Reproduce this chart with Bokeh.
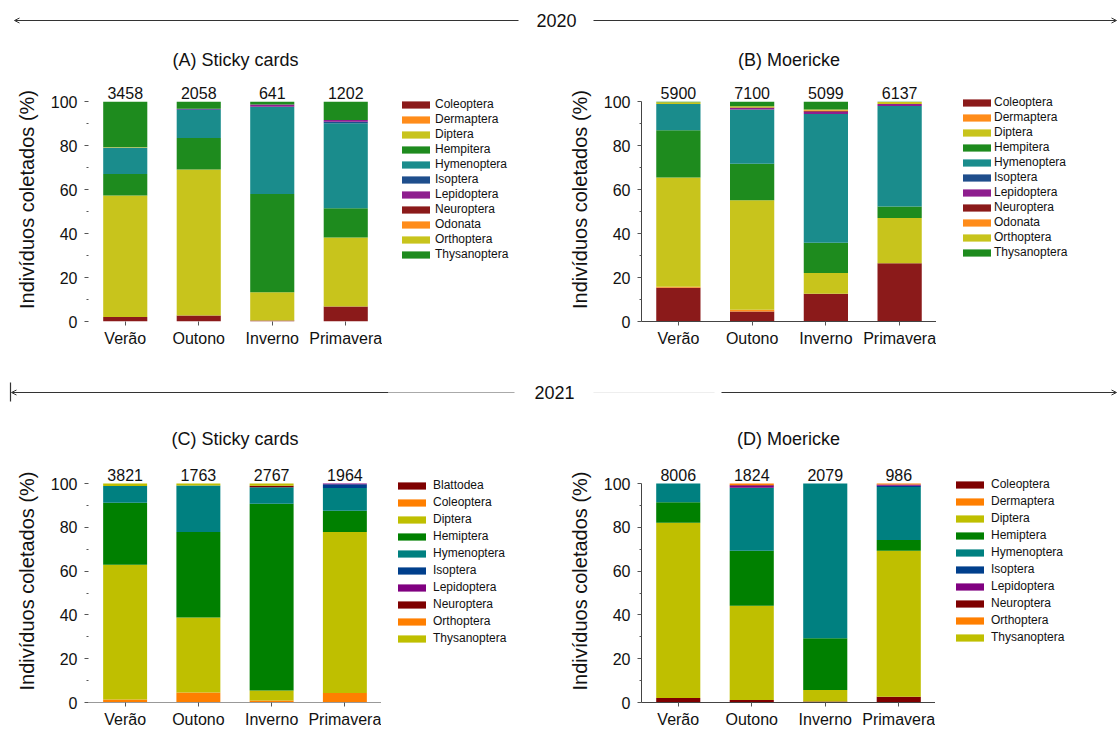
from bokeh.plotting import figure
from bokeh.models import (Legend, LegendItem, FactorRange, Range1d, FixedTicker,
                          Label, Arrow, OpenHead, ColumnDataSource)
from bokeh.layouts import column, row
from bokeh.embed import file_html
from bokeh.resources import INLINE
from bokeh.core.properties import value

FONT = "Liberation Sans"

seasons = ["Verão", "Outono", "Inverno", "Primavera"]

# ---------- 2020 ----------
orders_2020 = ["Coleoptera", "Dermaptera", "Diptera", "Hempitera", "Hymenoptera",
               "Isoptera", "Lepidoptera", "Neuroptera", "Odonata", "Orthoptera",
               "Thysanoptera"]
colors_2020 = ["#8B1A1A", "#FF8C1A", "#C8C41C", "#1E8B1E", "#1A8C8C",
               "#1F4E8C", "#8E1E8E", "#8B1A1A", "#FF8C1A", "#C8C41C", "#1E8B1E"]

# (A) Sticky cards 2020, % per order, seasons Verão..Primavera
a_coleoptera = [2.0, 2.7, 0.5, 6.8]
a_dermaptera = [0.0, 0.0, 0.0, 0.0]
a_diptera = [55.3, 66.4, 12.8, 31.4]
a_hempitera = [9.8, 14.4, 44.7, 13.3]
a_hymenoptera = [12.0, 12.7, 39.7, 38.7]
a_isoptera = [0.0, 0.3, 0.0, 0.7]
a_lepidoptera = [0.0, 0.3, 1.0, 0.8]
a_neuroptera = [0.0, 0.0, 0.0, 0.0]
a_odonata = [0.0, 0.0, 0.0, 0.0]
a_orthoptera = [0.3, 0.0, 0.0, 0.0]
a_thysanoptera = [20.6, 3.2, 1.3, 8.3]
a_counts = [3458, 2058, 641, 1202]

# (B) Moericke 2020
b_coleoptera = [15.4, 4.5, 12.6, 26.5]
b_dermaptera = [0.4, 0.8, 0.0, 0.0]
b_diptera = [49.7, 49.9, 9.5, 20.6]
b_hempitera = [21.5, 16.6, 13.7, 5.2]
b_hymenoptera = [11.9, 24.6, 58.6, 45.7]
b_isoptera = [0.0, 0.0, 0.0, 0.0]
b_lepidoptera = [0.0, 0.7, 1.0, 1.0]
b_neuroptera = [0.0, 0.2, 0.4, 0.0]
b_odonata = [0.0, 0.0, 0.3, 0.0]
b_orthoptera = [0.8, 0.6, 0.3, 0.8]
b_thysanoptera = [0.3, 2.1, 3.6, 0.2]
b_counts = [5900, 7100, 5099, 6137]

# ---------- 2021 ----------
orders_c = ["Blattodea", "Coleoptera", "Diptera", "Hemiptera", "Hymenoptera",
            "Isoptera", "Lepidoptera", "Neuroptera", "Orthoptera", "Thysanoptera"]
colors_c = ["#7F0000", "#FF7F00", "#BFBF00", "#008000", "#008080",
            "#003F8C", "#800080", "#7F0000", "#FF7F00", "#BFBF00"]

c_blattodea = [0.0, 0.0, 0.0, 0.0]
c_coleoptera = [1.4, 4.6, 0.9, 4.3]
c_diptera = [61.5, 34.2, 4.6, 73.6]
c_hemiptera = [28.4, 39.1, 85.3, 9.7]
c_hymenoptera = [7.6, 21.2, 7.5, 10.4]
c_isoptera = [0.0, 0.0, 0.0, 1.7]
c_lepidoptera = [0.0, 0.0, 0.0, 0.3]
c_neuroptera = [0.0, 0.0, 0.7, 0.0]
c_orthoptera = [0.0, 0.0, 0.0, 0.0]
c_thysanoptera = [1.1, 0.9, 1.0, 0.0]
c_counts = [3821, 1763, 2767, 1964]

orders_d = ["Coleoptera", "Dermaptera", "Diptera", "Hemiptera", "Hymenoptera",
            "Isoptera", "Lepidoptera", "Neuroptera", "Orthoptera", "Thysanoptera"]
colors_d = ["#7F0000", "#FF7F00", "#BFBF00", "#008000", "#008080",
            "#003F8C", "#800080", "#7F0000", "#FF7F00", "#BFBF00"]

d_coleoptera = [2.1, 1.1, 0.5, 2.6]
d_dermaptera = [0.0, 0.0, 0.0, 0.0]
d_diptera = [80.0, 43.1, 5.2, 66.7]
d_hemiptera = [9.4, 25.1, 23.7, 4.9]
d_hymenoptera = [8.5, 28.8, 70.6, 24.2]
d_isoptera = [0.0, 0.0, 0.0, 0.6]
d_lepidoptera = [0.0, 1.0, 0.0, 0.6]
d_neuroptera = [0.0, 0.3, 0.0, 0.0]
d_orthoptera = [0.0, 0.6, 0.0, 0.4]
d_thysanoptera = [0.0, 0.0, 0.0, 0.0]
d_counts = [8006, 1824, 2079, 986]

y_ticks = [0, 20, 40, 60, 80, 100]
y_minor = [10, 30, 50, 70, 90]
Y_END = 111


def panel(title, orders, series, colors, counts, fw, fh, left, top, bottom,
          title_standoff, x_line, y_line,
          leg_w, leg_xy, leg_spacing, leg_standoff):
    data = {"season": seasons}
    for o, s in zip(orders, series):
        data[o] = s
    data["top"] = [sum(s[i] for s in series) for i in range(len(seasons))]
    data["count"] = [str(c) for c in counts]
    src = ColumnDataSource(data)

    p = figure(x_range=FactorRange(*seasons), y_range=Range1d(0, Y_END),
               frame_width=fw, frame_height=fh, output_backend="svg",
               toolbar_location=None, min_border_left=left,
               min_border_right=0, min_border_top=top,
               min_border_bottom=bottom, outline_line_color=None,
               background_fill_color="white", border_fill_color="white")
    p.grid.visible = False

    p.vbar_stack(orders, x="season", width=0.6, fill_color=colors,
                 line_color=None, source=src)
    p.text(x="season", y="top", text="count", source=src,
           text_align="center", text_baseline="bottom", y_offset=-3,
           text_font=value(FONT), text_font_size="16px", text_color="#111111")

    p.title.text = title
    p.title.align = "center"
    p.title.text_font = FONT
    p.title.text_font_size = "18px"
    p.title.text_font_style = "normal"
    p.title.text_color = "#111111"
    p.title.standoff = title_standoff

    ya = p.yaxis[0]
    ya.ticker = FixedTicker(ticks=y_ticks, minor_ticks=y_minor)
    ya.bounds = (0, 100)
    ya.axis_label = "Indivíduos coletados (%)"
    ya.axis_label_text_font = FONT
    ya.axis_label_text_font_size = "20px"
    ya.axis_label_text_font_style = "normal"
    ya.axis_label_text_color = "#111111"
    ya.axis_label_standoff = 10
    ya.major_label_text_font = FONT
    ya.major_label_text_font_size = "16px"
    ya.major_label_text_color = "#111111"
    ya.major_label_standoff = 7
    ya.major_tick_in = 0
    ya.major_tick_out = 4
    ya.minor_tick_in = 0
    ya.minor_tick_out = 2
    ya.major_tick_line_color = "#555555"
    ya.minor_tick_line_color = "#555555"
    ya.axis_line_color = "#444444" if y_line else None

    xa = p.xaxis[0]
    xa.major_label_text_font = FONT
    xa.major_label_text_font_size = "16px"
    xa.major_label_text_color = "#111111"
    xa.major_label_standoff = 4
    xa.major_tick_in = 0
    xa.major_tick_out = 4
    xa.major_tick_line_color = "#555555"
    xa.axis_line_color = x_line

    # legend lives in its own narrow figure to the right of the plot
    total_h = top + fh + bottom
    lf = figure(width=leg_w, height=total_h, x_range=FactorRange(*seasons),
                y_range=Range1d(0, Y_END), output_backend="svg",
                toolbar_location=None, min_border=0, x_axis_type=None,
                y_axis_type=None, outline_line_color=None)
    lf.grid.visible = False
    lrs = lf.vbar_stack(orders, x="season", width=0.6, fill_color=colors,
                        line_color=None, source=src)
    for r in lrs:
        r.visible = False
    items = [LegendItem(label=o, renderers=[r]) for o, r in zip(orders, lrs)]
    leg = Legend(items=items, location=leg_xy, margin=0, padding=0,
                 spacing=leg_spacing, glyph_width=35, glyph_height=9,
                 label_height=14, label_standoff=leg_standoff,
                 label_text_font=FONT, label_text_font_size="12px",
                 label_text_color="#111111", border_line_color=None,
                 background_fill_alpha=0, inactive_fill_alpha=0)
    lf.add_layout(leg)
    return p, lf


def header(h, line_y, segs, text, text_x):
    hp = figure(width=1118, height=h, x_range=Range1d(0, 1118),
                y_range=Range1d(0, h), output_backend="svg",
                toolbar_location=None, min_border=0, x_axis_type=None,
                y_axis_type=None, outline_line_color=None)
    hp.grid.visible = False
    for (x0, y0, x1, y1, col, head) in segs:
        hp.add_layout(Arrow(x_start=x0, y_start=y0, x_end=x1, y_end=y1,
                            line_color=col, line_width=1.2,
                            end=OpenHead(size=5, line_color=col, line_width=1) if head else None))
    hp.add_layout(Label(x=text_x, y=line_y, text=text, text_align="center",
                        text_baseline="middle", text_font=FONT,
                        text_font_size="18px", text_color="#111111"))
    return hp


pA, lA = panel("(A) Sticky cards", orders_2020,
               [a_coleoptera, a_dermaptera, a_diptera, a_hempitera, a_hymenoptera,
                a_isoptera, a_lepidoptera, a_neuroptera, a_odonata, a_orthoptera,
                a_thysanoptera], colors_2020, a_counts,
               294, 244, 88, 38, 47, 16, None, None,
               178, (16, 60), 1, 2)
pB, lB = panel("(B) Moericke", orders_2020,
               [b_coleoptera, b_dermaptera, b_diptera, b_hempitera, b_hymenoptera,
                b_isoptera, b_lepidoptera, b_neuroptera, b_odonata, b_orthoptera,
                b_thysanoptera], colors_2020, b_counts,
               295, 244, 81, 38, 47, 16, "#444444", True,
               182, (23, 62), 1, 0)
pC, lC = panel("(C) Sticky cards", orders_c,
               [c_blattodea, c_coleoptera, c_diptera, c_hemiptera, c_hymenoptera,
                c_isoptera, c_lepidoptera, c_neuroptera, c_orthoptera,
                c_thysanoptera], colors_c, c_counts,
               293, 243, 88, 43, 49, 21, "#999999", False,
               179, (13, 57), 3, 4)
pD, lD = panel("(D) Moericke", orders_d,
               [d_coleoptera, d_dermaptera, d_diptera, d_hemiptera, d_hymenoptera,
                d_isoptera, d_lepidoptera, d_neuroptera, d_orthoptera,
                d_thysanoptera], colors_d, d_counts,
               294, 243, 81, 43, 49, 21, "#444444", True,
               183, (17, 58), 3, 4)

h1 = header(39, 19, [(518, 19, 14, 19, "#333333", True),
                     (593, 19, 1116, 19, "#333333", True)], "2020", 556)
h2 = header(48, 24, [(388, 24, 11, 24, "#333333", True),
                     (514, 24, 388, 24, "#aaaaaa", False),
                     (10, 34, 10, 15, "#333333", False),
                     (593, 24, 714, 24, "#eeeeee", False),
                     (721, 24, 1116, 24, "#333333", True)], "2021", 554)

layout = column(h1, row(pA, lA, pB, lB), h2, row(pC, lC, pD, lD))
open("out.html", "w").write(file_html(layout, INLINE))
